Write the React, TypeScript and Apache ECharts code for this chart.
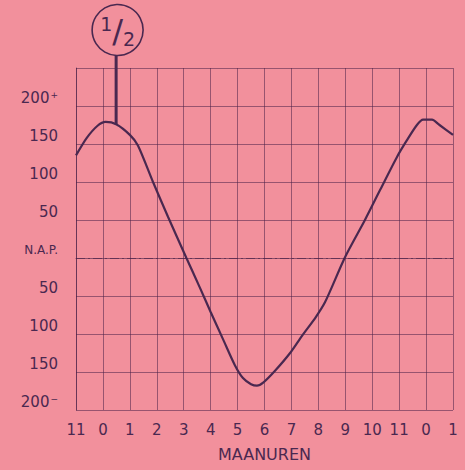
import React, { useEffect, useRef } from "react";
import * as echarts from "echarts";

// x positions are hour slots (0..14) labelled by moon hours
const hourLabels = ["11", "0", "1", "2", "3", "4", "5", "6", "7", "8", "9", "10", "11", "0", "1"];
// tide curve: [slot position, level in cm relative to N.A.P.]
const tidePos = [0, 0.4, 0.8, 1.1, 1.49, 2.0, 2.3, 2.86, 3.42, 4.1, 4.6, 5.0, 5.5, 5.9, 6.2, 6.5, 6.72, 6.95, 7.4, 7.95, 8.4, 8.9, 9.25, 9.99, 10.73, 11.3, 11.92, 12.29, 12.66, 12.89, 13.22, 13.5, 14];
const tideLevel = [135, 158, 174, 179, 176, 162, 148, 100, 54, 0, -39, -71, -110, -141, -158, -166, -168, -164, -148, -125, -102, -78, -58, 1, 50, 90, 133, 155, 175, 182, 182, 175, 162];
const halfMarkerPos = 1.49; // position of the "1/2" marker line
const halfMarkerLevel = 176;

const INK = "#4a2850";
const GRIDC = "rgba(74,34,72,0.6)";
const BG = "#f2909c";
const FONT = "DejaVu Sans";

export default function App() {
  const ref = useRef<HTMLDivElement>(null);
  useEffect(() => {
    if (!ref.current) return;
    const chart = echarts.init(ref.current, undefined, { renderer: "svg" });
    const data = tidePos.map((p, i) => [p, tideLevel[i]]);
    chart.setOption({
      animation: false,
      backgroundColor: BG,
      grid: { left: 76, right: 12, top: 68, bottom: 60 },
      xAxis: {
        type: "value",
        min: 0,
        max: 14,
        interval: 1,
        name: "MAANUREN",
        nameLocation: "middle",
        nameGap: 36,
        nameTextStyle: { color: INK, fontFamily: FONT, fontSize: 16 },
        axisLine: { show: true, lineStyle: { color: GRIDC, width: 1 } },
        axisTick: { show: false },
        axisLabel: {
          color: INK,
          fontFamily: FONT,
          fontSize: 15,
          margin: 12,
          formatter: (v: number) => hourLabels[Math.round(v)] ?? "",
        },
        splitLine: { show: true, lineStyle: { color: GRIDC, width: 0.9 } },
      },
      yAxis: {
        type: "value",
        min: -200,
        max: 250,
        interval: 50,
        axisLine: { show: true, lineStyle: { color: GRIDC, width: 1 } },
        axisTick: { show: false },
        axisLabel: {
          color: INK,
          fontFamily: FONT,
          fontSize: 15,
          margin: 18,
          verticalAlign: "bottom",
          formatter: (v: number) => {
            if (v === 250) return "";
            if (v === 200) return "{n|200}{s|+}";
            if (v === -200) return "{n|200}{s|−}";
            if (v === 0) return "{a|N.A.P.}";
            return "{n|" + Math.abs(v) + "}";
          },
          rich: {
            n: { fontSize: 15, fontFamily: FONT, color: INK, lineHeight: 16 },
            s: { fontSize: 9, fontFamily: FONT, color: INK, verticalAlign: "top", lineHeight: 16, padding: [0, 0, 8, 1] },
            a: { fontSize: 12, fontFamily: FONT, color: INK, lineHeight: 16 },
          },
        },
        splitLine: {
          show: true,
          lineStyle: { color: [GRIDC, GRIDC, GRIDC, GRIDC, "rgba(0,0,0,0)", GRIDC, GRIDC, GRIDC, GRIDC, GRIDC], width: 0.9 },
        },
      },
      series: [
        {
          type: "line",
          data,
          smooth: 0.25,
          symbol: "none",
          lineStyle: { color: INK, width: 2.2 },
          z: 3,
          markLine: {
            silent: true,
            symbol: "none",
            label: { show: false },
            lineStyle: { color: GRIDC, width: 1, type: [9, 3, 2, 3] },
            data: [{ yAxis: 0 }],
          },
        },
      ],
    });
    const pt = chart.convertToPixel({ gridIndex: 0 }, [halfMarkerPos, halfMarkerLevel]) as number[];
    const lx = pt[0];
    const cx = lx + 1.5;
    const cy = 30;
    const r = 25.5;
    chart.setOption({
      graphic: [
        { type: "line", shape: { x1: lx, y1: cy + r, x2: lx, y2: pt[1] }, style: { stroke: INK, lineWidth: 3 }, z: 10 },
        { type: "circle", shape: { cx, cy, r }, style: { fill: "none", stroke: INK, lineWidth: 1.6 }, z: 10 },
        {
          type: "text",
          x: cx,
          y: cy + 1,
          style: {
            text: "{a|1}{b|/}{c|2}",
            align: "center",
            verticalAlign: "middle",
            rich: {
              a: { fontSize: 19, fontFamily: FONT, fill: INK, color: INK, verticalAlign: "top", lineHeight: 34 },
              b: { fontSize: 32, fontFamily: FONT, fill: INK, color: INK, lineHeight: 34 },
              c: { fontSize: 19, fontFamily: FONT, fill: INK, color: INK, verticalAlign: "bottom", lineHeight: 34 },
            },
          },
          z: 10,
        },
      ],
    });
    return () => chart.dispose();
  }, []);
  return <div ref={ref} style={{ position: "absolute", left: 0, top: 0, width: 465, height: 470 }} />;
}
